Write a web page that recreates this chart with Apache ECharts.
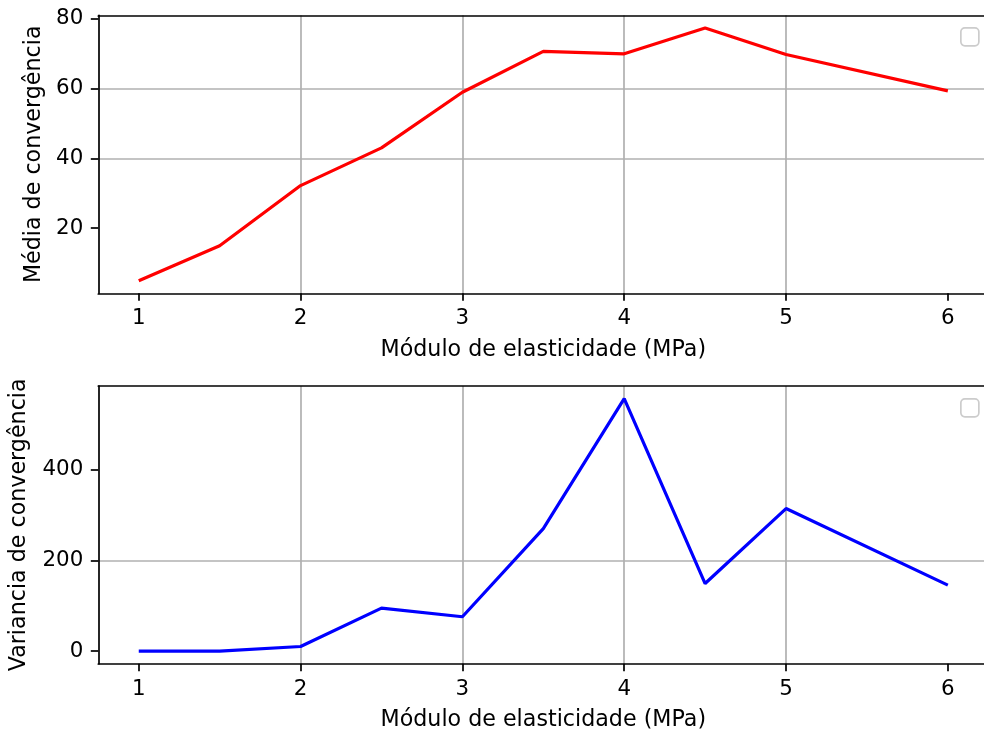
<!DOCTYPE html>
<html>
<head>
<meta charset="utf-8">
<script src="https://cdn.jsdelivr.net/npm/echarts@6/dist/echarts.min.js"></script>
<style>
  html, body { margin: 0; padding: 0; background: #ffffff; }
  #chart { width: 984px; height: 731px; }
</style>
</head>
<body>
<div id="chart"></div>
<script>
// Elastic modulus (MPa) sampled in both panels
const modulus = [1, 1.5, 2, 2.5, 3, 3.5, 4, 4.5, 5, 6];
// Mean convergence for each modulus
const meanConvergence = [5.0, 15.0, 32.2, 43.0, 58.9, 70.6, 69.9, 77.3, 69.7, 59.3];
// Variance of convergence for each modulus
const varConvergence = [0.3, 0.3, 10.4, 94.8, 75.8, 270, 556, 149, 314, 145.5];
// Tick values shown on each axis
const xTicks = [1, 2, 3, 4, 5, 6];
const meanTicks = [20, 40, 60, 80];
const varTicks = [0, 200, 400];

const FONT = 'DejaVu Sans';
const FS = 21.4;       // tick labels
const NAME_FS = 22.2;  // axis titles
const GRID_COLOR = '#b0b0b0';
const SPINE_W = 1.7;

function pairs(xs, ys) {
  return xs.map((x, i) => [x, ys[i]]);
}

// 5% padding around the data range on each side
function padded(vals) {
  const lo = Math.min(...vals), hi = Math.max(...vals);
  const m = (hi - lo) * 0.05;
  return [lo - m, hi + m];
}

const xRange = padded(modulus);
const meanRange = padded(meanConvergence);
const varRange = padded(varConvergence);

function xAxisDef(gridIndex) {
  return {
    type: 'value', gridIndex,
    min: xRange[0], max: xRange[1], splitNumber: 5,
    name: 'Módulo de elasticidade (MPa)',
    nameLocation: 'middle', nameGap: 46,
    nameTextStyle: { fontFamily: FONT, fontSize: NAME_FS, color: '#000' },
    axisLine: { show: true, onZero: false, lineStyle: { color: '#000', width: SPINE_W } },
    axisTick: { show: true, inside: false, length: 7.5, customValues: xTicks,
      lineStyle: { color: '#000', width: SPINE_W } },
    axisLabel: { customValues: xTicks, margin: 15, fontFamily: FONT, fontSize: FS, color: '#000',
      formatter: v => String(v) },
    splitLine: { show: true, showMinLine: false, showMaxLine: false,
      lineStyle: { color: GRID_COLOR, width: SPINE_W } }
  };
}

// Top spine of a panel
function topSpine(gridIndex) {
  return {
    type: 'value', gridIndex, position: 'top',
    min: xRange[0], max: xRange[1],
    axisLine: { show: true, onZero: false, lineStyle: { color: '#000', width: SPINE_W } },
    axisTick: { show: false }, axisLabel: { show: false }, splitLine: { show: false }
  };
}

function yAxisDef(gridIndex, range, ticks, name, gap) {
  return {
    type: 'value', gridIndex,
    min: range[0], max: range[1], splitNumber: ticks.length - 1,
    name, nameLocation: 'middle', nameGap: gap,
    nameTextStyle: { fontFamily: FONT, fontSize: NAME_FS, color: '#000' },
    axisLine: { show: true, onZero: false, lineStyle: { color: '#000', width: SPINE_W } },
    axisTick: { show: true, inside: false, length: 7.5, customValues: ticks,
      lineStyle: { color: '#000', width: SPINE_W } },
    axisLabel: { customValues: ticks, margin: 15, fontFamily: FONT, fontSize: FS, color: '#000',
      formatter: v => String(v) },
    splitLine: { show: true, showMinLine: false, showMaxLine: false,
      lineStyle: { color: GRID_COLOR, width: SPINE_W } }
  };
}

// Empty legend frame in the upper-right corner of each panel
function legendFrame(x, y) {
  return {
    type: 'rect', left: x, top: y, z: 100,
    shape: { width: 18, height: 18, r: 4 },
    style: { fill: 'rgba(255,255,255,0.8)', stroke: '#cccccc', lineWidth: SPINE_W }
  };
}

const chart = echarts.init(document.getElementById('chart'), null, { renderer: 'canvas' });
chart.setOption({
  animation: false,
  backgroundColor: '#ffffff',
  grid: [
    { left: 98.3, top: 15.3, width: 890, height: 278, outerBoundsMode: 'none', containLabel: false },
    { left: 98.3, top: 386, width: 890, height: 277.7, outerBoundsMode: 'none', containLabel: false }
  ],
  xAxis: [xAxisDef(0), xAxisDef(1), topSpine(0), topSpine(1)],
  yAxis: [
    yAxisDef(0, meanRange, meanTicks, 'Média de convergência', 53),
    yAxisDef(1, varRange, varTicks, 'Variancia de convergência', 68)
  ],
  series: [
    { type: 'line', xAxisIndex: 0, yAxisIndex: 0, data: pairs(modulus, meanConvergence),
      showSymbol: false, lineStyle: { color: '#ff0000', width: 3.2 }, itemStyle: { color: '#ff0000' } },
    { type: 'line', xAxisIndex: 1, yAxisIndex: 1, data: pairs(modulus, varConvergence),
      showSymbol: false, lineStyle: { color: '#0000ff', width: 3.2 }, itemStyle: { color: '#0000ff' } }
  ],
  graphic: [legendFrame(960, 27), legendFrame(960, 398)]
});
</script>
</body>
</html>
